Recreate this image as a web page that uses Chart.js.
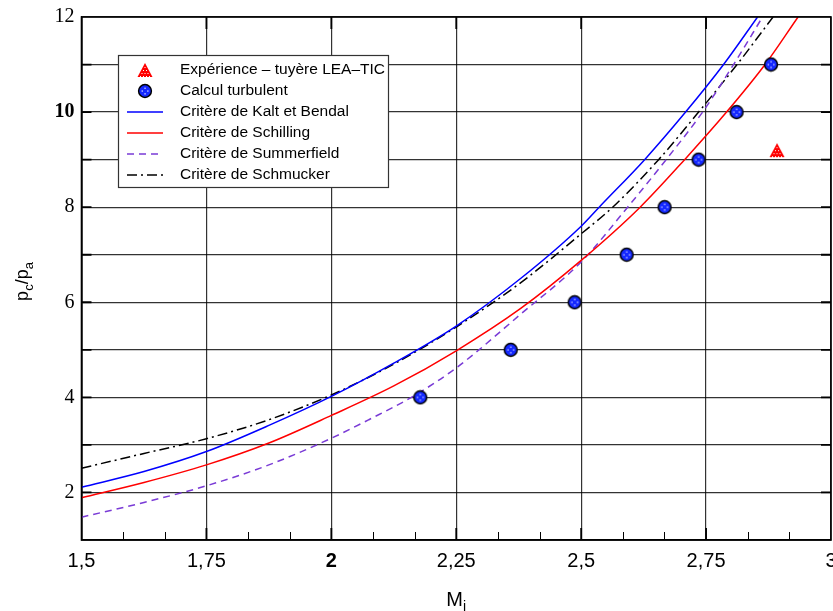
<!DOCTYPE html>
<html>
<head>
<meta charset="utf-8">
<script src="https://cdn.jsdelivr.net/npm/chart.js@4.4.0/dist/chart.umd.min.js"></script>
<style>
  html, body { margin: 0; padding: 0; background: #fff; }
</style>
</head>
<body>
<canvas id="critChart" width="833" height="611"></canvas>
<script>
// tick labels (french decimal comma)
var xTickLabels = ['1,5', '1,75', '2', '2,25', '2,5', '2,75', '3'];
var yTickLabels = ['2', '4', '6', '8', '10', '12'];

// points
var experienceM = [2.892];
var experienceP = [9.2];
var turbulentM = [2.178, 2.359, 2.487, 2.591, 2.667, 2.735, 2.811, 2.880];
var turbulentP = [4, 5, 6, 7, 8, 9, 10, 11];

// criteria curves
var kaltM = [1.5, 1.625, 1.75, 1.875, 2.0, 2.125, 2.25, 2.38, 2.5, 2.536, 2.627, 2.709, 2.785, 2.853];
var kaltP = [2.11, 2.44, 2.86, 3.41, 4.02, 4.72, 5.50, 6.51, 7.60, 8, 9, 10, 11, 12];

var schillingM = [1.5, 1.625, 1.75, 1.875, 2.0, 2.125, 2.25, 2.379, 2.5, 2.618, 2.707, 2.791, 2.868, 2.934];
var schillingP = [1.89, 2.21, 2.58, 3.04, 3.62, 4.24, 4.98, 5.87, 6.88, 8, 9, 10, 11, 12];

var summerfieldM = [1.5, 1.625, 1.75, 1.875, 2.0, 2.075, 2.165, 2.25, 2.379, 2.5, 2.593, 2.670, 2.743, 2.805, 2.863];
var summerfieldP = [1.48, 1.79, 2.14, 2.58, 3.14, 3.53, 4.03, 4.62, 5.75, 6.85, 8, 9, 10, 11, 12];

var schmuckerM = [1.5, 1.625, 1.75, 1.875, 2.0, 2.125, 2.25, 2.38, 2.5, 2.563, 2.655, 2.735, 2.812, 2.884];
var schmuckerP = [2.51, 2.82, 3.13, 3.53, 4.05, 4.70, 5.48, 6.42, 7.44, 8, 9, 10, 11, 12];

function toPoints(xs, ys) {
  var out = [];
  for (var i = 0; i < xs.length; i++) {
    out.push({ x: xs[i], y: ys[i] });
  }
  return out;
}

function makeCircleMarker() {
  var c = document.createElement('canvas');
  c.width = 16;
  c.height = 16;
  var g = c.getContext('2d');
  g.beginPath();
  g.arc(8, 8, 6.4, 0, Math.PI * 2);
  g.fillStyle = '#1428ff';
  g.fill();
  g.lineWidth = 1.5;
  g.strokeStyle = '#000';
  g.stroke();
  g.fillStyle = 'rgba(255,255,255,0.85)';
  g.fillRect(7.4, 4.6, 1.3, 1.3);
  g.fillRect(4.6, 7.4, 1.3, 1.3);
  g.fillRect(10.2, 7.4, 1.3, 1.3);
  g.fillRect(7.4, 10.2, 1.3, 1.3);
  return c;
}

function makeTriangleMarker() {
  var c = document.createElement('canvas');
  c.width = 16;
  c.height = 16;
  var g = c.getContext('2d');
  g.beginPath();
  g.moveTo(8, 1);
  g.lineTo(15.5, 15);
  g.lineTo(0.5, 15);
  g.closePath();
  g.fillStyle = '#ff0000';
  g.fill();
  g.fillStyle = '#fff';
  for (var row = 0; row < 4; row++) {
    var yy = 5 + row * 3;
    for (var xx = 8 - row * 1.5; xx <= 8 + row * 1.5; xx += 3) {
      g.fillRect(xx - 0.5, yy, 1, 1);
    }
  }
  return c;
}

var circleMarker = makeCircleMarker();
var triangleMarker = makeTriangleMarker();

// draws a string made of [text, isSubscript] parts centred on x
function drawSubText(ctx, parts, x, y, bigFont, smallFont) {
  var total = 0;
  var widths = [];
  for (var i = 0; i < parts.length; i++) {
    ctx.font = parts[i][1] ? smallFont : bigFont;
    widths.push(ctx.measureText(parts[i][0]).width);
    total += widths[i];
  }
  var cx = x - total / 2;
  for (var j = 0; j < parts.length; j++) {
    ctx.font = parts[j][1] ? smallFont : bigFont;
    ctx.fillText(parts[j][0], cx, parts[j][1] ? y + 5 : y);
    cx += widths[j];
  }
}

var framePlugin = {
  id: 'framePlugin',
  afterDatasetsDraw: function (chart) {
    var ctx = chart.ctx;
    var a = chart.chartArea;
    var xs = chart.scales.x;
    var ys = chart.scales.y;
    ctx.save();

    // minor ticks along the bottom axis
    ctx.strokeStyle = '#000';
    ctx.lineWidth = 1;
    for (var k = 1; k < 18; k++) {
      if (k % 3 === 0) continue;
      var px = Math.round(xs.getPixelForValue(1.5 + k / 12)) + 0.5;
      ctx.beginPath();
      ctx.moveTo(px, a.bottom);
      ctx.lineTo(px, a.bottom - 8);
      ctx.stroke();
    }

    // major ticks, a bit heavier than the grid, on all four sides
    ctx.lineWidth = 1.8;
    for (var v = 2; v < 12; v++) {
      var py = ys.getPixelForValue(v);
      ctx.beginPath();
      ctx.moveTo(a.left, py);
      ctx.lineTo(a.left + 10, py);
      ctx.moveTo(a.right - 10, py);
      ctx.lineTo(a.right, py);
      ctx.stroke();
    }
    for (var m = 1; m < 6; m++) {
      var mx = xs.getPixelForValue(1.5 + m * 0.25);
      ctx.beginPath();
      ctx.moveTo(mx, a.bottom);
      ctx.lineTo(mx, a.bottom - 12);
      ctx.moveTo(mx, a.top);
      ctx.lineTo(mx, a.top + 12);
      ctx.stroke();
    }

    // frame
    ctx.lineWidth = 1.6;
    ctx.strokeStyle = '#000';
    ctx.strokeRect(a.left, a.top, a.right - a.left, a.bottom - a.top);

    // legend box
    var bx = 118, by = 55, bw = 270, bh = 132;
    ctx.fillStyle = '#fff';
    ctx.fillRect(bx, by, bw, bh);
    ctx.lineWidth = 1.2;
    ctx.strokeStyle = '#333';
    ctx.strokeRect(bx + 0.5, by + 0.5, bw, bh);

    var ds = chart.data.datasets;
    ctx.font = '15.5px "Liberation Sans", Arial, sans-serif';
    ctx.textBaseline = 'middle';
    for (var i = 0; i < ds.length; i++) {
      var ry = 70 + i * 21;
      if (ds[i].showLine) {
        ctx.save();
        ctx.strokeStyle = ds[i].borderColor;
        ctx.lineWidth = ds[i].borderWidth;
        ctx.setLineDash(ds[i].borderDash || []);
        ctx.beginPath();
        ctx.moveTo(127, ry);
        ctx.lineTo(163, ry);
        ctx.stroke();
        ctx.restore();
      } else {
        var img = ds[i].pointStyle;
        ctx.drawImage(img, 145 - img.width / 2, ry - img.height / 2);
      }
      ctx.fillStyle = '#000';
      ctx.fillText(ds[i].label, 180, ry);
    }

    // axis titles with subscripts
    ctx.fillStyle = '#000';
    ctx.textBaseline = 'alphabetic';
    ctx.textAlign = 'left';
    drawSubText(ctx, [['M', false], ['i', true]], (a.left + a.right) / 2, 606,
      '20px "Liberation Sans", Arial, sans-serif', '14px "Liberation Sans", Arial, sans-serif');

    ctx.translate(28, (a.top + a.bottom) / 2 + 3);
    ctx.rotate(-Math.PI / 2);
    drawSubText(ctx, [['p', false], ['c', true], ['/p', false], ['a', true]], 0, 0,
      '18px "Liberation Sans", Arial, sans-serif', '13px "Liberation Sans", Arial, sans-serif');
    ctx.restore();
  }
};

var ctx = document.getElementById('critChart');
var critChart = new Chart(ctx, {
  type: 'scatter',
  data: {
    datasets: [{
      label: 'Expérience – tuyère LEA–TIC',
      data: toPoints(experienceM, experienceP),
      pointStyle: triangleMarker,
      pointRadius: 7,
      showLine: false
    }, {
      label: 'Calcul turbulent',
      data: toPoints(turbulentM, turbulentP),
      pointStyle: circleMarker,
      pointRadius: 7,
      showLine: false
    }, {
      label: 'Critère de Kalt et Bendal',
      data: toPoints(kaltM, kaltP),
      showLine: true,
      borderColor: '#0000ff',
      borderWidth: 1.5,
      pointRadius: 0,
      cubicInterpolationMode: 'monotone'
    }, {
      label: 'Critère de Schilling',
      data: toPoints(schillingM, schillingP),
      showLine: true,
      borderColor: '#ff0000',
      borderWidth: 1.5,
      pointRadius: 0,
      cubicInterpolationMode: 'monotone'
    }, {
      label: 'Critère de Summerfield',
      data: toPoints(summerfieldM, summerfieldP),
      showLine: true,
      borderColor: '#7a3bd6',
      borderWidth: 1.5,
      borderDash: [7, 5],
      pointRadius: 0,
      cubicInterpolationMode: 'monotone'
    }, {
      label: 'Critère de Schmucker',
      data: toPoints(schmuckerM, schmuckerP),
      showLine: true,
      borderColor: '#000000',
      borderWidth: 1.5,
      borderDash: [10, 4, 2, 4],
      pointRadius: 0,
      cubicInterpolationMode: 'monotone'
    }]
  },
  options: {
    responsive: false,
    devicePixelRatio: 1,
    animation: false,
    layout: {
      autoPadding: false,
      padding: { left: 0, right: 2, top: 17, bottom: 0 }
    },
    plugins: {
      legend: { display: false },
      tooltip: { enabled: false }
    },
    scales: {
      x: {
        type: 'linear',
        min: 1.5,
        max: 3,
        afterFit: function (scale) {
          scale.height = 71;
          scale.paddingLeft = 0;
          scale.paddingRight = 0;
        },
        border: { display: true, color: '#000', width: 1.6 },
        grid: { color: 'rgba(0,0,0,0.8)', lineWidth: 1.2, drawTicks: false },
        ticks: {
          stepSize: 0.25,
          autoSkip: false,
          maxRotation: 0,
          padding: 9,
          color: '#000',
          font: function (c) {
            return {
              family: '"Liberation Sans", Arial, sans-serif',
              size: 20,
              weight: (c.tick && c.tick.value === 2) ? 'bold' : 'normal'
            };
          },
          callback: function (value, index) { return xTickLabels[index]; }
        }
      },
      y: {
        type: 'linear',
        min: 1,
        max: 12,
        afterFit: function (scale) {
          scale.width = 81.5;
          scale.paddingTop = 0;
          scale.paddingBottom = 0;
        },
        border: { display: true, color: '#000', width: 1.6 },
        grid: { color: 'rgba(0,0,0,0.8)', lineWidth: 1.2, drawTicks: false },
        ticks: {
          stepSize: 1,
          autoSkip: false,
          padding: 7,
          color: '#000',
          font: function (c) {
            return {
              family: '"Liberation Serif", "Times New Roman", serif',
              size: 20,
              weight: (c.tick && c.tick.value === 10) ? 'bold' : 'normal'
            };
          },
          callback: function (value) {
            return value % 2 === 0 ? yTickLabels[value / 2 - 1] : '';
          }
        }
      }
    }
  },
  plugins: [framePlugin]
});
</script>
</body>
</html>
